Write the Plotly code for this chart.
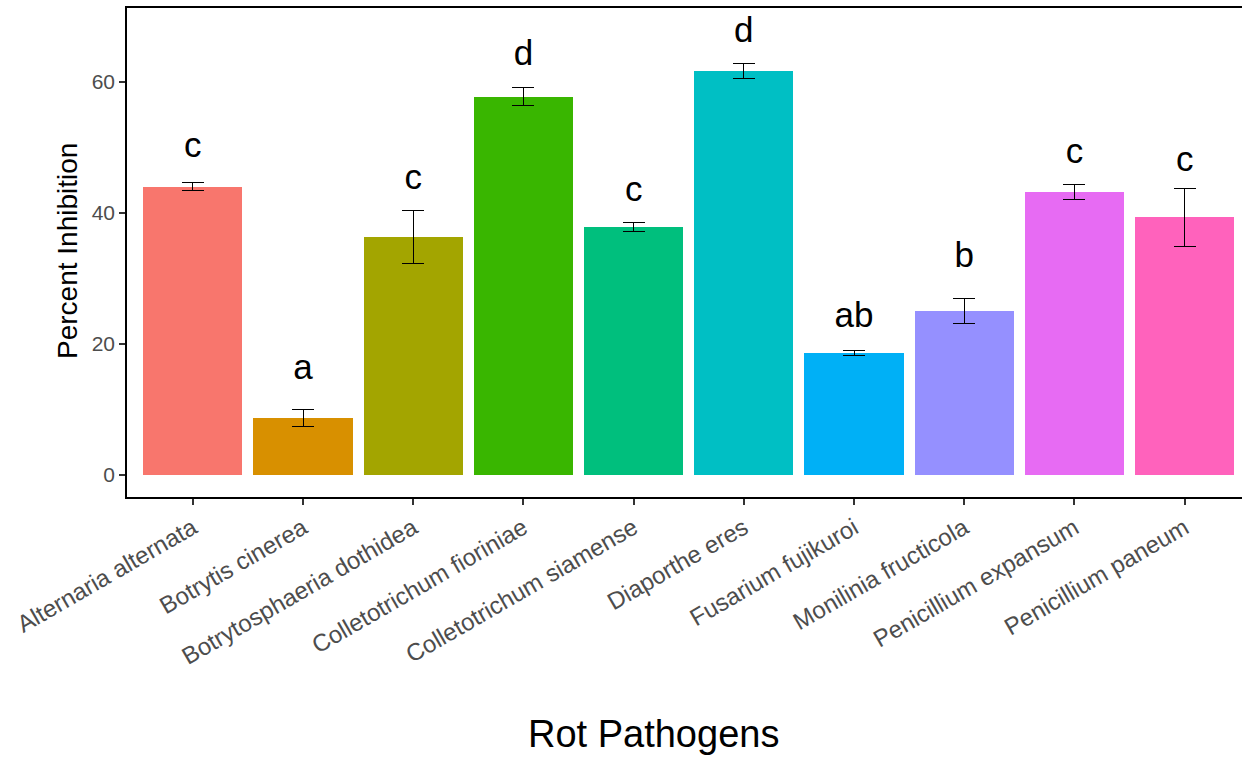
import plotly.graph_objects as go

pathogens = ["Alternaria alternata", "Botrytis cinerea", "Botrytosphaeria dothidea",
             "Colletotrichum fioriniae", "Colletotrichum siamense", "Diaporthe eres",
             "Fusarium fujikuroi", "Monilinia fructicola", "Penicillium expansum",
             "Penicillium paneum"]
inhibition = [44.0, 8.7, 36.3, 57.75, 37.8, 61.7, 18.55, 24.95, 43.2, 39.3]
se = [0.6, 1.3, 4.1, 1.35, 0.7, 1.1, 0.4, 1.9, 1.1, 4.45]
letters = ["c", "a", "c", "d", "c", "d", "ab", "b", "c", "c"]
letter_baseline = [48.3, 14.4, 43.4, 62.3, 41.5, 65.85, 22.3, 31.45, 47.4, 46.2]
colors = ["#F8766D", "#D89000", "#A3A500", "#39B600", "#00BF7D",
          "#00BFC4", "#00B0F6", "#9590FF", "#E76BF3", "#FF62BC"]
y_ticks = [0, 20, 40, 60]

W, H = 1242, 758
ML, MT, MR, MB = 127, 8, 0, 261
y_range = [-3.4, 71.3]
px_per_unit = (H - MT - MB) / (y_range[1] - y_range[0])
letter_size = 35
# text "middle" places baseline ~0.3em below the anchor
letter_y = [b + 0.3 * letter_size / px_per_unit for b in letter_baseline]

x_idx = list(range(len(pathogens)))

fig = go.Figure()
fig.add_trace(go.Bar(
    x=x_idx, y=inhibition, width=0.9,
    marker=dict(color=colors, line=dict(width=0)),
    error_y=dict(type="data", array=se, visible=True, color="black",
                 thickness=1, width=11),
    showlegend=False, hoverinfo="skip"))
fig.add_trace(go.Scatter(
    x=x_idx, y=letter_y, mode="text", text=letters,
    textposition="middle center",
    textfont=dict(family="Liberation Sans, Arial", size=letter_size, color="black"),
    showlegend=False, hoverinfo="skip"))

fig.update_layout(
    width=W, height=H,
    margin=dict(l=ML, r=MR, t=MT, b=MB, pad=0),
    paper_bgcolor="white", plot_bgcolor="white",
    font=dict(family="Liberation Sans, Arial"),
    bargap=0,
)
fig.update_xaxes(
    range=[-0.597, 9.52], tickmode="array", tickvals=x_idx, ticktext=pathogens,
    tickangle=-30, tickfont=dict(size=24, color="#4D4D4D"),
    showline=True, linecolor="black", linewidth=1.5, mirror=True,
    ticks="outside", ticklen=6, tickwidth=1.5, tickcolor="#333333",
    showgrid=False, zeroline=False,
)
fig.update_yaxes(
    range=y_range, tickmode="array", tickvals=y_ticks,
    tickfont=dict(size=21, color="#4D4D4D"),
    showline=True, linecolor="black", linewidth=1.5, mirror=False,
    ticks="outside", ticklen=6, tickwidth=1.5, tickcolor="#333333",
    showgrid=False, zeroline=False,
)
fig.add_annotation(text="Percent Inhibition", xref="paper", yref="paper",
                   x=-(ML - 67) / (W - ML - MR), y=1 - (251 - MT) / (H - MT - MB),
                   textangle=-90, showarrow=False, xanchor="center", yanchor="middle",
                   font=dict(size=28, color="black", family="Liberation Sans, Arial"))
fig.add_annotation(text="Rot Pathogens", xref="paper", yref="paper",
                   x=(653 - ML) / (W - ML - MR), y=-(734 - (H - MB)) / (H - MT - MB),
                   showarrow=False, xanchor="center", yanchor="middle",
                   font=dict(size=38, color="black", family="Liberation Sans, Arial"))

fig.write_html("out.html")
